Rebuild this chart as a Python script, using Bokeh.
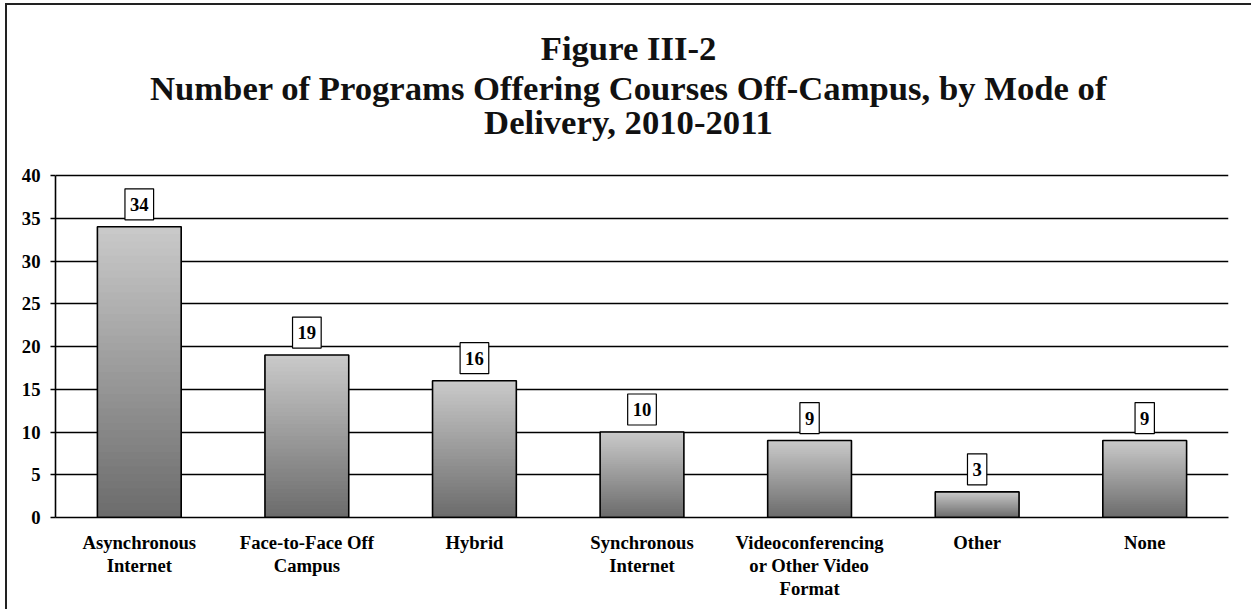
from bokeh.plotting import figure
from bokeh.models import FixedTicker, Range1d, FactorRange, Label
from bokeh.core.properties import value
from bokeh.embed import file_html
from bokeh.resources import INLINE

# ---- data ----
categories = [
    "Asynchronous\nInternet",
    "Face-to-Face Off\nCampus",
    "Hybrid",
    "Synchronous\nInternet",
    "Videoconferencing\nor Other Video\nFormat",
    "Other",
    "None",
]
counts = [34, 19, 16, 10, 9, 3, 9]
y_ticks = [0, 5, 10, 15, 20, 25, 30, 35, 40]
y_max = 40
title_lines = [
    "Figure III-2",
    "Number of Programs Offering Courses Off-Campus, by Mode of",
    "Delivery, 2010-2011",
]

SERIF = "Liberation Serif"
W, H = 1251, 609

# layout (pixels): value axis 0..40 spans 342 px; frame extends above it for the title
axis_px = 342
frame_top_extra_px = 169
y_top = y_max + frame_top_extra_px * y_max / axis_px

p = figure(
    x_range=FactorRange(*categories, range_padding=0),
    y_range=Range1d(0, y_top),
    width=W, height=H,
    output_backend="svg", toolbar_location=None,
    min_border_left=55, min_border_right=23,
    min_border_top=6, min_border_bottom=92,
)
p.title = None
p.outline_line_color = None
p.background_fill_color = "white"
p.border_fill_color = None
# thin frame on the left and top edges of the whole figure
p.styles = {"box-shadow": "inset 5px 3px 0 0 white, inset 7px 5px 0 0 #222",
            "background-color": "white"}

# title lines (screen units, measured from the frame's lower-left corner)
title_y = [470, 430, 396]
for line, ty in zip(title_lines, title_y):
    p.add_layout(Label(
        x=573, y=ty, x_units="screen", y_units="screen", text=line,
        text_align="center", text_baseline="alphabetic",
        text_font=SERIF, text_font_style="bold", text_font_size="26pt",
        text_color="#111111",
    ))

# gradient bars: overlapping strips, dark at bottom, light at top
N = 40
dark = (0x6b, 0x6b, 0x6b)
light = (0xca, 0xca, 0xca)
xs, bots, tops, cols = [], [], [], []
for cat, v in zip(categories, counts):
    for k in range(N):
        f = (k + 0.5) / N
        c = tuple(int(round(d + (l - d) * f)) for d, l in zip(dark, light))
        xs.append(cat)
        bots.append(v * k / N)
        tops.append(v)
        cols.append("#%02x%02x%02x" % c)
p.vbar(x=xs, bottom=bots, top=tops, width=0.5, fill_color=cols, line_color=None)
p.vbar(x=categories, top=counts, width=0.5, fill_color=None,
       line_color="black", line_width=1.6)

# value labels in boxes
p.text(
    x=categories, y=counts, text=[str(c) for c in counts],
    text_align="center", text_baseline="bottom", y_offset=-7,
    text_font=value(SERIF), text_font_style="bold", text_font_size="14pt",
    text_color="black",
    background_fill_color="white", border_line_color="black", border_line_width=1.2,
    padding=(5, 9),
)

# axes / grid
p.ygrid.ticker = FixedTicker(ticks=y_ticks)
p.ygrid.grid_line_color = "black"
p.ygrid.grid_line_width = 1.6
p.xgrid.grid_line_color = None

p.yaxis.ticker = FixedTicker(ticks=y_ticks)
p.yaxis.bounds = (0, y_max)
p.yaxis.axis_line_color = "black"
p.yaxis.axis_line_width = 1.6
p.yaxis.major_tick_out = 5
p.yaxis.major_tick_in = 0
p.yaxis.major_tick_line_width = 1.6
p.yaxis.minor_tick_line_color = None
p.yaxis.major_label_standoff = 10
p.yaxis.major_label_text_font = SERIF
p.yaxis.major_label_text_font_style = "bold"
p.yaxis.major_label_text_font_size = "14pt"
p.yaxis.major_label_text_color = "black"

p.xaxis.axis_line_color = "black"
p.xaxis.axis_line_width = 1.6
p.xaxis.major_tick_line_color = None
p.xaxis.major_tick_out = 0
p.xaxis.major_tick_in = 0
p.xaxis.major_label_standoff = 14
p.xaxis.major_label_orientation = "horizontal"
p.xaxis.major_label_text_font = SERIF
p.xaxis.major_label_text_font_style = "bold"
p.xaxis.major_label_text_font_size = "14pt"
p.xaxis.major_label_text_color = "black"
p.xaxis.major_label_text_align = "center"
p.xaxis.major_label_text_line_height = 1.1

open("out.html", "w").write(file_html(p, INLINE))
